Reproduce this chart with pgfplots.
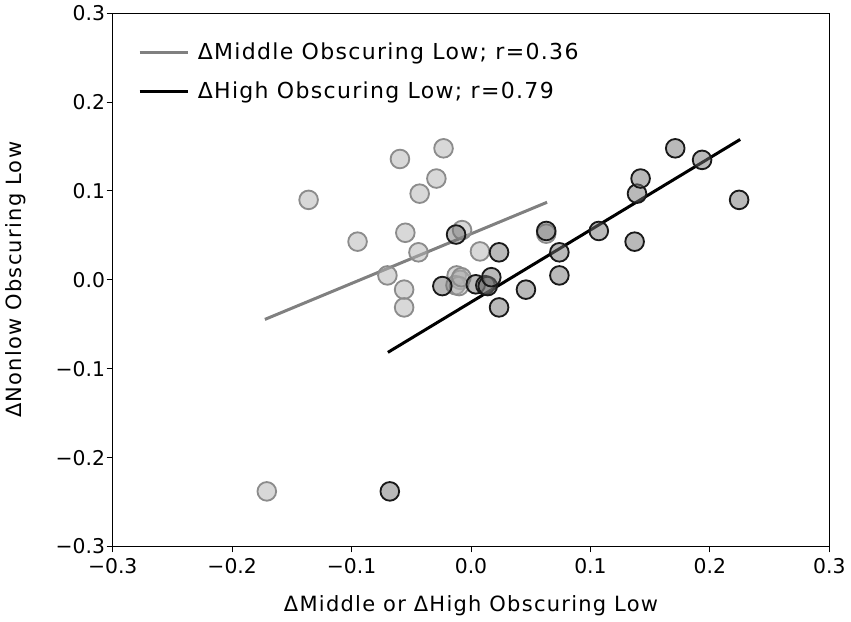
\documentclass[border=0pt]{standalone}
\usepackage{pgfplots}
\pgfplotsset{compat=1.18}
\usepackage{fontspec}
\setmainfont{DejaVu Sans}

\newcommand{\tickfont}{\fontsize{12.2}{14}\selectfont}
\newcommand{\labfont}{\fontsize{12.6}{15}\selectfont\addfontfeatures{LetterSpace=6}}
\newcommand{\legfont}{\fontsize{13.2}{15}\selectfont\addfontfeatures{LetterSpace=6}}

\begin{document}
\begin{tikzpicture}
\begin{axis}[
    width=430pt, height=320pt,
    scale only axis,
    xmin=-0.3, xmax=0.3,
    ymin=-0.3, ymax=0.3,
    xtick={-0.3,-0.2,-0.1,0,0.1,0.2,0.3},
    ytick={-0.3,-0.2,-0.1,0,0.1,0.2,0.3},
    xticklabels={−0.3,−0.2,−0.1,0.0,0.1,0.2,0.3},
    yticklabels={−0.3,−0.2,−0.1,0.0,0.1,0.2,0.3},
    tick align=outside,
    xtick pos=left, ytick pos=left,
    major tick length=3.6pt,
    tick style={black, line width=0.6pt},
    axis line style={line width=0.6pt},
    ticklabel style={font=\tickfont},
    yticklabel style={xshift=2.5pt},
    xlabel={ΔMiddle or ΔHigh Obscuring Low},
    ylabel={ΔNonlow Obscuring Low},
    label style={font=\labfont},
    xlabel style={yshift=-6pt},
    ylabel style={yshift=11pt},
    legend style={at={(0.028,0.958)}, anchor=north west, draw=none, fill=none,
        font=\legfont, row sep=8pt, column sep=3pt},
    legend cell align=left,
    legend image code/.code={\draw[#1] (0pt,0pt) -- (29pt,0pt);},
]
% Middle obscuring low (light points)
\addplot[only marks, mark=*, mark size=5.6pt, forget plot,
    mark options={draw=black!45, line width=1.1pt, fill=black!30, fill opacity=0.5}]
coordinates {
(-0.136,0.090) (-0.095,0.043) (-0.0595,0.136) (-0.055,0.053) (-0.043,0.097)
(-0.029,0.114) (-0.023,0.148) (-0.044,0.031) (-0.070,0.005) (-0.056,-0.011)
(-0.056,-0.031) (-0.171,-0.238) (-0.0075,0.056) (0.0075,0.032)
(-0.012,0.005) (-0.009,0.000) (-0.013,-0.006) (-0.010,-0.007) (-0.008,0.003)
(0.063,0.052)
};
\addplot[gray, line width=1.8pt] coordinates {(-0.1726,-0.0445) (0.0637,0.0873)};
\addlegendentry{ΔMiddle Obscuring Low; r=0.36}
% High obscuring low (dark points)
\addplot[only marks, mark=*, mark size=5.6pt, forget plot,
    mark options={draw=black!90, line width=1.1pt, fill=black!55, fill opacity=0.5}]
coordinates {
(-0.068,-0.238) (-0.024,-0.007) (-0.0125,0.051) (0.004,-0.005) (0.012,-0.006)
(0.014,-0.007) (0.017,0.003) (0.0235,0.031) (0.0235,-0.031) (0.046,-0.011)
(0.063,0.055) (0.074,0.031) (0.074,0.005) (0.107,0.055) (0.137,0.043)
(0.139,0.097) (0.142,0.114) (0.171,0.148) (0.1935,0.135) (0.2245,0.090)
};
\addplot[black, line width=1.8pt] coordinates {(-0.0696,-0.0816) (0.2254,0.158)};
\addlegendentry{ΔHigh Obscuring Low; r=0.79}
\end{axis}
\end{tikzpicture}
\end{document}
